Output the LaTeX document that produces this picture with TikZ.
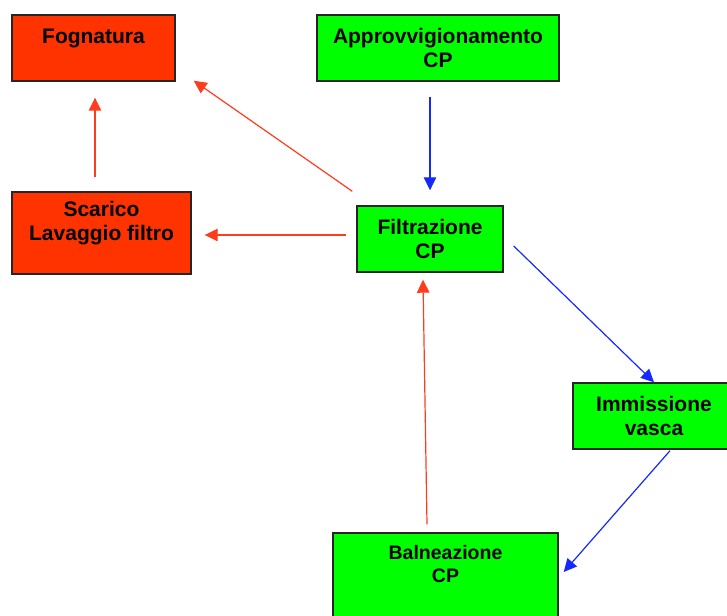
\documentclass[tikz,border=0pt]{standalone}
\usepackage{fontspec}
\setmainfont{Liberation Sans}
\usetikzlibrary{arrows.meta}
\definecolor{boxred}{RGB}{255,51,0}
\definecolor{boxgreen}{RGB}{0,255,0}
\definecolor{flowblue}{RGB}{20,40,255}
\definecolor{flowred}{RGB}{255,60,30}
\tikzset{every picture/.style={line width=0.75pt}}
\tikzset{
	stage/.style={draw=black!85,line width=1.4pt,align=center,inner sep=0pt,
		font=\fontsize{21}{24}\selectfont\bfseries},
	waste/.style={stage,fill=boxred},
	clean/.style={stage,fill=boxgreen},
	blueflow/.style={draw=flowblue,line width=1.2pt,-{Triangle[length=13pt,width=12.5pt]}},
	redflow/.style={draw=flowred,line width=1.2pt,-{Triangle[length=13pt,width=12.5pt]}}
}

\begin{document}
\begin{tikzpicture}[x=1pt,y=-1pt]
			\useasboundingbox (0,0) rectangle (727,615);
			\clip (0,0) rectangle (727,615);
			% boxes
			\node [waste,minimum width=163,minimum height=66] (fogn) at (93.5,48) {Fognatura\\~};
			\node [clean,minimum width=242,minimum height=66] (appr) at (438,48) {Approvvigionamento\\CP};
			\node [waste,minimum width=179,minimum height=82] (scar) at (101.5,233) {Scarico\\Lavaggio filtro\\~};
			\node [clean,minimum width=146,minimum height=66] (filt) at (430,239) {Filtrazione\\CP};
			\node [clean,minimum width=162,minimum height=66] (imm) at (654,416) {Immissione\\vasca};
			\node [clean,minimum width=225,minimum height=107,
				font=\fontsize{19.5}{23}\selectfont\bfseries] (baln) at (445.5,586.5) {Balneazione\\CP\\~\\~};
			% flows
			\draw [blueflow] ([yshift=-15pt]appr.south -| filt.north) -- ([yshift=15pt]filt.north);
			\draw [redflow] ([xshift=-4pt,yshift=14pt]filt.north west) -- ([xshift=18pt,yshift=1pt]fogn.south east);
			\draw [redflow] ([xshift=1.5pt,yshift=14pt]scar.north -| fogn.south) -- ([xshift=1.5pt,yshift=-16pt]fogn.south);
			\draw [redflow] ([xshift=-10pt,yshift=4pt]filt.west) -- ([xshift=13pt,yshift=-2pt]scar.east);
			\draw [blueflow] ([xshift=10pt,yshift=-7pt]filt.east) -- (imm.north);
			\draw [blueflow] ([xshift=16pt,yshift=-1pt]imm.south) -- ([xshift=5pt,yshift=14.5pt]baln.east);
			\draw [redflow] ([xshift=-18.5pt,yshift=8pt]baln.north) -- ([xshift=-7pt,yshift=-7pt]filt.south);
		\end{tikzpicture}
\end{document}
